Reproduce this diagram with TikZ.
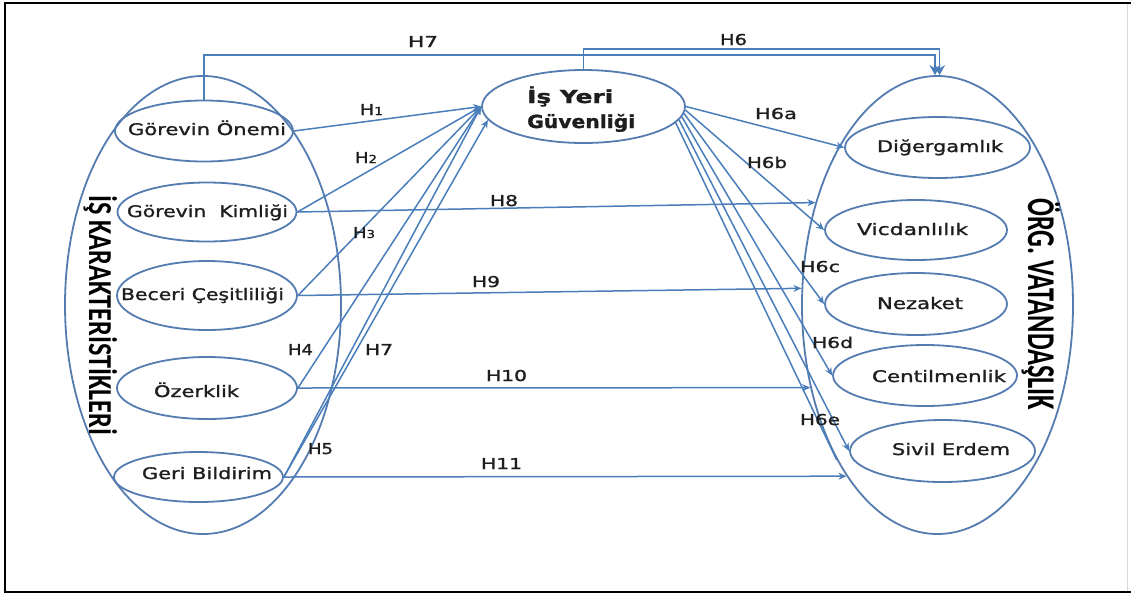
\documentclass[tikz,border=0pt]{standalone}
\usepackage{fontspec}
\usepackage{graphicx}
\usetikzlibrary{shapes.geometric,arrows.meta}
\newfontfamily\labfont[FakeBold=1.2]{DejaVu Sans}
\newfontfamily\ttlfont{Carlito}
\definecolor{lnblue}{RGB}{74,126,187}
\definecolor{elblue}{RGB}{84,124,176}
\definecolor{txt}{RGB}{30,30,30}
\newcommand\fitw[2]{\resizebox{#1}{\height}{#2}}
\newcommand\osn[1]{{\fontsize{11}{12}\selectfont #1}}
\begin{document}
\begin{tikzpicture}[x=1pt,y=-1pt,
 ell/.style={ellipse,draw=elblue,line width=1.8pt,inner sep=0pt},
 lbl/.style={font=\labfont\fontsize{16}{18}\selectfont,text=txt,inner sep=0pt,anchor=base},
 ttlb/.style={font=\labfont\bfseries\fontsize{18}{20}\selectfont,text=txt,inner sep=0pt,anchor=base west},
 hyp/.style={font=\labfont\fontsize{15}{17}\selectfont,text=txt,inner sep=0pt,anchor=base},
 ttl/.style={font=\ttlfont\bfseries,text=black,inner sep=0pt,rotate=-90,anchor=base west},
 con/.style={draw=lnblue,line width=1.5pt},
 arr/.style={con,-{Stealth[length=8pt,width=7pt]}},
 bigarr/.style={con,-{Stealth[length=10pt,width=11pt]}}]
\useasboundingbox (0,0) rectangle (1131,595);
\fill[white] (0,0) rectangle (1131,595);
\draw[line width=1pt,black!15] (1127,3) -- (1127,592);
\draw[line width=2pt,black] (1131,3) -- (5,3) -- (5,592) -- (1131,592);

% big construct ellipses
\node[ell,minimum width=276pt,minimum height=458pt] (lk) at (203,305) {};
\node[ell,minimum width=271pt,minimum height=458pt] (rv) at (937.5,305) {};
% left dimension ellipses
\node[ell,minimum width=178pt,minimum height=61pt] (go) at (204,131) {};
\node[ell,minimum width=179pt,minimum height=59pt] (gk) at (207,212) {};
\node[ell,minimum width=180pt,minimum height=69pt] (bc) at (207,295.5) {};
\node[ell,minimum width=180pt,minimum height=62pt] (oz) at (207,388) {};
\node[ell,minimum width=169pt,minimum height=50pt] (gb) at (198.5,477) {};
% mediator
\node[ell,minimum width=203pt,minimum height=73pt] (iy) at (583.5,106.5) {};
% right dimension ellipses
\node[ell,minimum width=185pt,minimum height=61pt] (dg) at (937.5,147.5) {};
\node[ell,minimum width=182pt,minimum height=60pt] (vc) at (916,230) {};
\node[ell,minimum width=182pt,minimum height=62pt] (nz) at (916,304) {};
\node[ell,minimum width=184pt,minimum height=61pt] (ce) at (925,375.5) {};
\node[ell,minimum width=185pt,minimum height=62pt] (se) at (942.5,451) {};

% top connectors H7 and H6
\coordinate (t7) at (935,55);
\coordinate (t6) at (939.5,49);
\draw[bigarr] (go.north) -- (go.north |- t7) -- (t7) -- (t7 |- rv.north);
\draw[bigarr] (iy.north) -- (iy.north |- t6) -- (t6) -- (t6 |- rv.north);

% left to mediator
\draw[arr] (go.east) -- (iy.west);
\draw[arr] (gk.east) -- (iy.west);
\draw[arr] (bc.east) -- (iy.west);
\draw[arr] (oz.east) -- (iy.west);
\draw[arr] (gb.east) -- (iy.west);
\draw[arr] (gb.east) -- (iy.188);

% mediator to right
\draw[arr] (iy.east) -- (dg.west);
\draw[arr] (iy.-2) -- (vc.west);
\draw[arr] (iy.-4) -- (nz.west);
\draw[arr] (iy.-6) -- (ce.west);
\draw[arr] (iy.-8) -- (se.west);
\draw[con] (iy.-10) -- (rv.237);

% direct effects
\draw[arr] (gk.east) -- (rv.140.2);
\draw[arr] (bc.east) -- (rv.173.7);
\draw[arr] (oz.east) -- (rv.213.4);
\draw[arr] (gb.east) -- (rv.242.6);

% titles
\node[ttl] (tl) at (89,195) {\resizebox{240pt}{28pt}{İŞ KARAKTERİSTİKLERİ}};
\node[ttl] (tr) at (1028,198) {\resizebox{212pt}{32pt}{ÖRG. VATANDAŞLIK}};

% ellipse texts
\node[lbl] (got) at (207,135) {\fitw{158pt}{Görevin Önemi}};
\node[lbl] (gkt) at (207.5,217) {\fitw{161pt}{Görevin\ \ Kimliği}};
\node[lbl] (bct) at (202.5,300) {\fitw{163pt}{Beceri Çeşitliliği}};
\node[lbl] (ozt) at (196.5,397) {\fitw{85pt}{Özerklik}};
\node[lbl] (gbt) at (207,479) {\fitw{130pt}{Geri Bildirim}};
\node[lbl] (dgt) at (940,152) {\fitw{126pt}{Diğergamlık}};
\node[lbl] (vct) at (912.5,235) {\fitw{111pt}{Vicdanlılık}};
\node[lbl] (nzt) at (920,309) {\fitw{86pt}{Nezaket}};
\node[lbl] (cet) at (939,382) {\fitw{134pt}{Centilmenlik}};
\node[lbl] (set) at (951,455) {\fitw{118pt}{Sivil Erdem}};
\node[ttlb] (iyt1) at (527,103) {\fitw{86pt}{İş Yeri}};
\node[ttlb] (iyt2) at (527,128) {\fitw{108pt}{Güvenliği}};

% hypothesis labels
\node[hyp] (h7a) at (423,47) {\fitw{30pt}{H7}};
\node[hyp] (h6) at (733.5,45) {\fitw{27pt}{H6}};
\node[hyp] (h1) at (371.5,115) {\fitw{23pt}{H\osn{1}}};
\node[hyp] (h2) at (366,163) {\fitw{22pt}{H\osn{2}}};
\node[hyp] (h3) at (364,238) {\fitw{22pt}{H\osn{3}}};
\node[hyp] (h4) at (300.5,355) {\fitw{25pt}{H4}};
\node[hyp] (h7b) at (379,355) {\fitw{28pt}{H7}};
\node[hyp] (h5) at (320.5,454) {\fitw{25pt}{H5}};
\node[hyp] (h8) at (504,206) {\fitw{28pt}{H8}};
\node[hyp] (h9) at (486,287) {\fitw{28pt}{H9}};
\node[hyp] (h10) at (506.5,381) {\fitw{41pt}{H10}};
\node[hyp] (h11) at (501.5,469) {\fitw{41pt}{H11}};
\node[hyp] (h6a) at (776,119) {\fitw{42pt}{H6a}};
\node[hyp] (h6b) at (767,168) {\fitw{40pt}{H6b}};
\node[hyp] (h6c) at (820,272) {\fitw{40pt}{H6c}};
\node[hyp] (h6d) at (832.5,348) {\fitw{41pt}{H6d}};
\node[hyp] (h6e) at (820,425) {\fitw{40pt}{H6e}};
\end{tikzpicture}
\end{document}
